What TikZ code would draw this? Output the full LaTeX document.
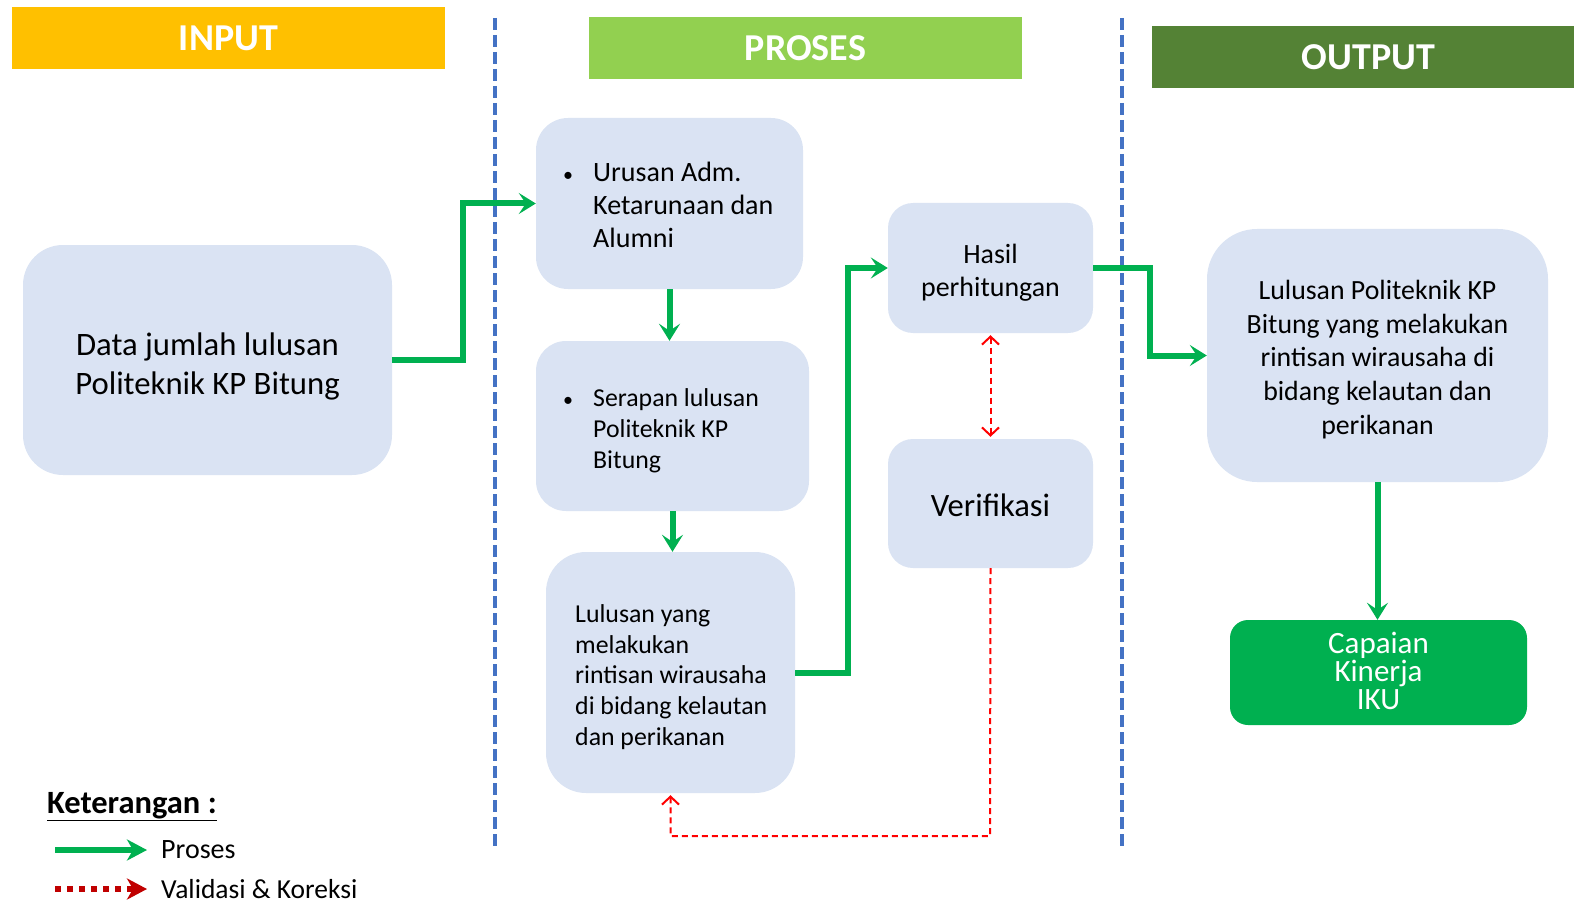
\documentclass[tikz,border=0pt]{standalone}
\usepackage{fontspec}
\setmainfont{Carlito}
\usetikzlibrary{arrows.meta}
\definecolor{boxblue}{HTML}{DAE3F3}
\definecolor{procgreen}{HTML}{00B050}
\definecolor{inputcol}{HTML}{FFC000}
\definecolor{prosescol}{HTML}{92D050}
\definecolor{outputcol}{HTML}{548235}
\definecolor{divblue}{HTML}{4472C4}
\definecolor{darkred}{HTML}{C00000}
\newcommand{\blt}{\makebox[30pt][l]{\fontsize{20}{20}\selectfont\textbullet}}
\tikzset{
  head/.style={text=white, font=\bfseries\fontsize{38}{46}\selectfont, minimum width=433, minimum height=62, inner sep=0pt},
  box/.style={fill=boxblue, rounded corners=#1, inner sep=0pt},
  txt/.style={inner sep=0pt, align=left},
  ctxt/.style={inner sep=0pt, align=center},
  divider/.style={draw=divblue, line width=4pt, dash pattern=on 12pt off 5pt},
  proc/.style={draw=procgreen, line width=6pt, -{Stealth[length=17pt,width=21pt,inset=7pt]}},
  vld/.style={draw=red, line width=2pt, dash pattern=on 6pt off 4pt},
  barb/.tip={Straight Barb[length=8pt,width=17pt,line width=2pt]}
}

\begin{document}
\begin{tikzpicture}[x=1pt,y=-1pt]
		\useasboundingbox (0,0) rectangle (1574,904);
		
		%%%%% HEADERS %%%%%
		\node[head, fill=inputcol] (input) at (228.5,38.5) {INPUT};
		\node[head, fill=prosescol] (proses) at (805.5,48) {PROSES};
		\node[head, fill=outputcol] (output) at (1368.5,57) {OUTPUT};
		
		\draw[divider] (495,18) -- (495,850);
		\draw[divider] (1122,18) -- (1122,850);
		
		%%%%% BOXES %%%%%
		\node[box=40, minimum width=369, minimum height=230] (data) at (207.5,360) {};
		\node[ctxt, font=\fontsize{32.7}{39}\selectfont] (datatxt) at (207.5,366) {Data jumlah lulusan\\Politeknik KP Bitung};
		
		\node[box=32, minimum width=267, minimum height=171] (urusan) at (669.5,203.5) {};
		\node[txt, anchor=west, font=\fontsize{28}{33}\selectfont] (urusantxt) at (563,208) {\begin{tabular}{@{}l@{}l@{}}\blt & Urusan Adm.\\ & Ketarunaan dan\\ & Alumni\end{tabular}};
		
		\node[box=30, minimum width=273, minimum height=170] (serapan) at (672.5,426) {};
		\node[txt, anchor=west, font=\fontsize{25.8}{31}\selectfont] (serapantxt) at (563,431) {\begin{tabular}{@{}l@{}l@{}}\blt & Serapan lulusan\\ & Politeknik KP\\ & Bitung\end{tabular}};
		
		\node[box=40, minimum width=249, minimum height=241] (lulusan) at (670.5,672.5) {};
		\node[txt, anchor=west, font=\fontsize{25.8}{30.6}\selectfont] (lulusantxt) at (575,677) {Lulusan yang\\melakukan\\rintisan wirausaha\\di bidang kelautan\\dan perikanan};
		
		\node[box=25, minimum width=205, minimum height=130] (hasil) at (990.5,268) {};
		\node[ctxt, font=\fontsize{27.9}{33}\selectfont] (hasiltxt) at (990.5,273) {Hasil\\perhitungan};
		\node[box=25, minimum width=205, minimum height=129] (verif) at (990.5,503.5) {};
		\node[ctxt, font=\fontsize{32.6}{38}\selectfont] (veriftxt) at (990.5,505.5) {Verifikasi};
		
		\node[box=50, minimum width=341, minimum height=253] (lulusanout) at (1377.5,355.5) {};
		\node[ctxt, font=\fontsize{27.8}{33.7}\selectfont] (lulusanouttxt) at (1377.5,359.5) {Lulusan Politeknik KP\\Bitung yang melakukan\\rintisan wirausaha di\\bidang kelautan dan\\perikanan};
		\node[box=18, fill=procgreen, minimum width=297, minimum height=105] (iku) at (1378.5,672.5) {};
		\node[ctxt, text=white, font=\fontsize{31}{28}\selectfont] (ikutxt) at (1378.5,670.5) {Capaian\\Kinerja\\IKU};
		
		%%%%% CONNECTORS %%%%%
		\draw[proc] (data.east) -- (463,360) |- (urusan.west);
		\draw[proc] (urusan.south) -- (urusan.south |- serapan.north);
		\draw[proc] (serapan.south) -- (serapan.south |- lulusan.north);
		\draw[proc] (lulusan.east) -- (848,672.5) |- (hasil.west);
		\draw[proc] (hasil.east) -- (1150,268) |- (lulusanout.west);
		\draw[proc] (lulusanout.south) -- (lulusanout.south |- iku.north);
		
		\draw[vld, barb-barb, shorten <=2pt, shorten >=2pt] (hasil.south) -- (verif.north);
		\draw[vld, -barb, shorten >=2pt] (verif.south) -- (990,836) -| (lulusan.south);
		
		%%%%% LEGEND %%%%%
		\node[txt, anchor=west, font=\bfseries\fontsize{32.5}{38}\selectfont] (ket) at (47,807) {\underline{Keterangan :}};
		\coordinate (lgproc) at (55,850);
		\coordinate (lgprocend) at (147,850);
		\draw[proc, -{Stealth[length=20pt,width=21pt,inset=6pt]}] (lgproc) -- (lgprocend);
		\node[txt, anchor=west, font=\fontsize{28}{32}\selectfont] (lproses) at (161,850) {Proses};
		\coordinate (lgvld) at (55,889);
		\coordinate (lgvldend) at (147,889);
		\draw[draw=darkred, line width=6pt, dash pattern=on 6pt off 6pt, -{Stealth[length=20pt,width=21pt,inset=6pt]}] (lgvld) -- (lgvldend);
		\node[txt, anchor=west, font=\fontsize{27.5}{32}\selectfont] (lvalidasi) at (161,889) {Validasi \& Koreksi};
		
	\end{tikzpicture}
\end{document}
